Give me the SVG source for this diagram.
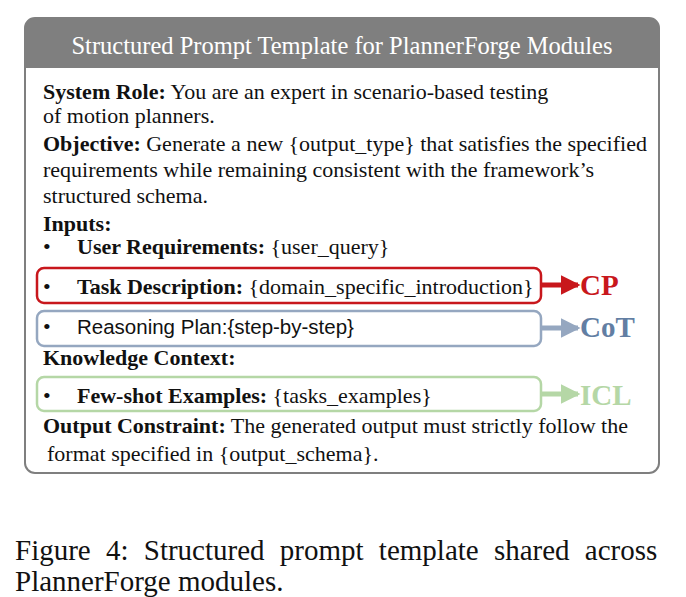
<svg xmlns="http://www.w3.org/2000/svg" width="686" height="597" viewBox="0 0 686 597">
<style>
text{font-family:"Liberation Serif","Times New Roman",serif;font-size:22px;fill:#111}
.b{font-weight:bold}
.lab{font-size:29px;font-weight:bold}
</style>
<defs>
<marker id="mr" markerWidth="4" markerHeight="4" refX="3.5" refY="2" orient="auto" markerUnits="strokeWidth"><path d="M0,0L4,2L0,4z" fill="#c8171c"/></marker>
<marker id="mb" markerWidth="4" markerHeight="4" refX="3.5" refY="2" orient="auto" markerUnits="strokeWidth"><path d="M0,0L4,2L0,4z" fill="#95a7c0"/></marker>
<marker id="mg" markerWidth="4" markerHeight="4" refX="3.5" refY="2" orient="auto" markerUnits="strokeWidth"><path d="M0,0L4,2L0,4z" fill="#b5d7a6"/></marker>
</defs>
<rect width="686" height="597" fill="#fff"/>
<g id="frame">
<path d="M25,68 V28 a10,10 0 0 1 10,-10 H649 a10,10 0 0 1 10,10 V68 Z" fill="#7f7f7f"/>
<rect x="25" y="18" width="634" height="455" rx="10" fill="none" stroke="#7f7f7f" stroke-width="2"/>
<text x="342" y="54" text-anchor="middle" style="fill:#fff;font-size:24.5px">Structured Prompt Template for PlannerForge Modules</text>
</g>
<g id="body">
<text x="43" y="99"><tspan class="b">System Role:</tspan> You are an expert in scenario-based testing</text>
<text x="43" y="123">of motion planners.</text>
<text x="43" y="151"><tspan class="b">Objective:</tspan> Generate a new {output_type} that satisfies the specified</text>
<text x="43" y="177">requirements while remaining consistent with the framework’s</text>
<text x="43" y="203">structured schema.</text>
<text x="43" y="231" class="b">Inputs:</text>
<text x="43" y="254">•</text><text x="77" y="254"><tspan class="b">User Requirements:</tspan> {user_query}</text>
<text x="43" y="294">•</text><text x="77" y="294"><tspan class="b">Task Description:</tspan> {domain_specific_introduction}</text>
<text x="43" y="334">•</text><text x="77" y="334" style="font-family:'Liberation Sans',Arial,sans-serif;font-size:20.5px">Reasoning Plan:{step-by-step}</text>
<text x="43" y="365" class="b">Knowledge Context:</text>
<text x="43" y="403">•</text><text x="77" y="403"><tspan class="b">Few-shot Examples:</tspan> {tasks_examples}</text>
<text x="43" y="433"><tspan class="b">Output Constraint:</tspan> The generated output must strictly follow the</text>
<text x="47" y="461">format specified in {output_schema}.</text>
</g>
<g id="cp"><rect x="37" y="268" width="504" height="35" rx="7" fill="none" stroke="#c8171c" stroke-width="2.5"/><text x="580" y="295" class="lab" style="fill:#c8171c">CP</text></g>
<g id="cot"><rect x="37" y="311" width="504" height="35" rx="7" fill="none" stroke="#95a7c0" stroke-width="2.5"/><text x="580" y="337" class="lab" style="fill:#627ea3">CoT</text></g>
<g id="icl"><rect x="37" y="377" width="504" height="34" rx="7" fill="none" stroke="#b5d7a6" stroke-width="2.5"/><text x="580" y="405" class="lab" style="fill:#b5d7a6">ICL</text></g>
<g id="connectors">
<line x1="541" y1="285" x2="578" y2="285" stroke="#c8171c" stroke-width="5" marker-end="url(#mr)"/>
<line x1="541" y1="328" x2="578" y2="328" stroke="#95a7c0" stroke-width="5" marker-end="url(#mb)"/>
<line x1="541" y1="394" x2="578" y2="394" stroke="#b5d7a6" stroke-width="5" marker-end="url(#mg)"/>
</g>
<g id="caption">
<text x="15" y="560" style="font-size:29px;word-spacing:8px">Figure 4:  Structured prompt template shared across</text>
<text x="15" y="591" style="font-size:29px">PlannerForge modules.</text>
</g>
</svg>
